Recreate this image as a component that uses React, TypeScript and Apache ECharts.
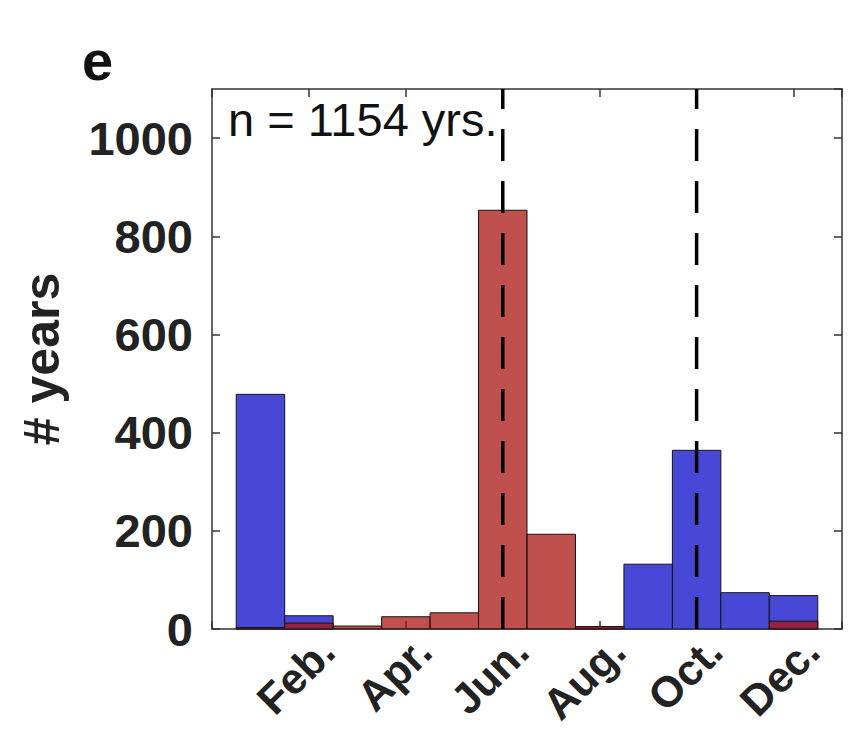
import React, { useEffect, useRef } from "react";
import * as echarts from "echarts";

const months = [1, 2, 3, 4, 5, 6, 7, 8, 9, 10, 11, 12];
const blueCounts = [478, 27, 0, 0, 0, 0, 0, 4, 132, 364, 74, 68];
const redCounts = [3, 12, 6, 25, 33, 853, 193, 5, 0, 0, 0, 16];
const tickMonths = [2, 4, 6, 8, 10, 12];
const tickLabels = ["Feb.", "Apr.", "Jun.", "Aug.", "Oct.", "Dec."];
const dashedMonths = [6, 10];
const yTicks = [0, 200, 400, 600, 800, 1000];
const annotation = "n = 1154 yrs.";
const panelLabel = "e";
const yName = "# years";

const FONT = '"Liberation Sans", Arial, Helvetica, sans-serif';
const INK = "#222222";

function barRender(fill: string) {
  return (params: any, api: any) => {
    const m = api.value(0);
    const v = api.value(1);
    if (!v) return null;
    const p0 = api.coord([m - 0.5, v]);
    const p1 = api.coord([m + 0.5, 0]);
    return {
      type: "rect",
      shape: { x: p0[0], y: p0[1], width: p1[0] - p0[0], height: p1[1] - p0[1] },
      style: { fill, stroke: "#151515", lineWidth: 1 },
    };
  };
}

export default function App() {
  const ref = useRef<HTMLDivElement>(null);
  useEffect(() => {
    document.body.style.margin = "0";
    if (!ref.current) return;
    const chart = echarts.init(ref.current, null, { renderer: "svg" });
    const axisLine = { show: true, onZero: false, lineStyle: { color: "#333", width: 1.5 } };
    const tick = { show: true, inside: true, length: 8, lineStyle: { color: "#333", width: 1.5 } };
    chart.setOption({
      animation: false,
      backgroundColor: "#ffffff",
      grid: { left: 212, top: 89, right: 16, bottom: 127, containLabel: false },
      xAxis: [
        {
          type: "value", min: 0, max: 13, interval: 2, position: "bottom",
          axisLine, axisTick: tick, axisLabel: { show: false }, splitLine: { show: false },
        },
        {
          type: "value", min: 0, max: 13, interval: 2, position: "top",
          axisLine, axisTick: tick, axisLabel: { show: false }, splitLine: { show: false },
        },
      ],
      yAxis: [
        {
          type: "value", min: 0, max: 1100, interval: 200, position: "left",
          axisLine, axisTick: tick, splitLine: { show: false },
          axisLabel: {
            margin: 19, showMaxLabel: false,
            formatter: (v: number) => (yTicks.includes(v) ? String(v) : ""),
            fontFamily: FONT, fontWeight: "bold", fontSize: 47, color: INK,
          },
          name: yName, nameLocation: "middle", nameRotate: 90, nameGap: 145,
          nameTextStyle: { fontFamily: FONT, fontWeight: "bold", fontSize: 50, color: INK },
        },
        {
          type: "value", min: 0, max: 1100, interval: 200, position: "right",
          axisLine, axisTick: tick, axisLabel: { show: false }, splitLine: { show: false },
        },
      ],
      series: [
        {
          type: "custom", name: "blue", renderItem: barRender("#4848d6"),
          data: months.map((m, i) => [m, blueCounts[i]]), z: 2,
        },
        {
          type: "custom", name: "red", renderItem: barRender("rgba(171,22,19,0.75)"),
          data: months.map((m, i) => [m, redCounts[i]]), z: 3,
        },
        {
          type: "custom", name: "dashes", z: 4,
          renderItem: (params: any, api: any) => {
            const m = api.value(0);
            const b = api.coord([m, 0]);
            const t = api.coord([m, 1100]);
            return {
              type: "line",
              shape: { x1: b[0], y1: b[1], x2: t[0], y2: t[1] },
              style: { stroke: "#000", lineWidth: 3.5, lineDash: [32, 20] },
            };
          },
          data: dashedMonths.map((m) => [m, 0]),
        },
        {
          type: "custom", name: "xlabels", z: 5, clip: false, silent: true,
          renderItem: (params: any, api: any) => {
            const i = params.dataIndex;
            const p = api.coord([api.value(0), 0]);
            return {
              type: "text",
              x: p[0] + 18, y: p[1] + 15, rotation: Math.PI / 4,
              style: {
                text: tickLabels[i], align: "right", verticalAlign: "middle",
                font: `bold 43px ${FONT}`, fill: INK,
              },
            };
          },
          data: tickMonths.map((m) => [m, 0]),
        },
      ],
      graphic: [
        {
          type: "text", left: 228, top: 96, z: 10,
          style: { text: annotation, font: `47px ${FONT}`, fill: "#111" },
        },
        {
          type: "text", left: 82, top: 32, z: 10,
          style: { text: panelLabel, font: `bold 56px ${FONT}`, fill: "#111" },
        },
      ],
    });
    return () => chart.dispose();
  }, []);
  return <div ref={ref} style={{ width: 858, height: 756 }} />;
}
